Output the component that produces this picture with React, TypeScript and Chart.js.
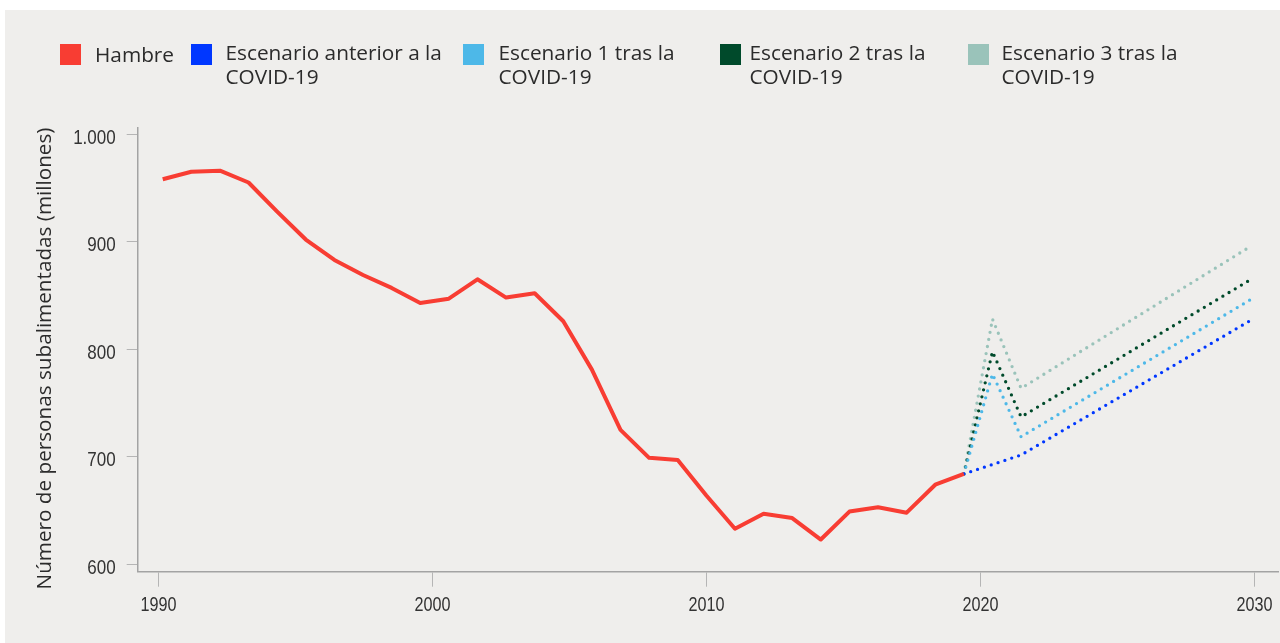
import React, { useEffect, useRef } from 'react';
import { Chart, registerables } from 'chart.js';

Chart.register(...registerables);

// ---- data ----
const hungerYears = [
  1991, 1992, 1993, 1994, 1995, 1996, 1997, 1998, 1999, 2000,
  2001, 2002, 2003, 2004, 2005, 2006, 2007, 2008, 2009, 2010,
  2011, 2012, 2013, 2014, 2015, 2016, 2017, 2018, 2019,
];
const hungerValues = [
  958, 965, 966, 955, 928, 902, 883, 869, 857, 843,
  847, 865, 848, 852, 826, 781, 725, 699, 697, 664,
  633, 647, 643, 623, 649, 653, 648, 674, 684,
];

const preCovidYears = [2019, 2021, 2029];
const preCovidValues = [684, 701.6, 826.5];

const scenarioYears = [2019, 2020, 2021, 2029];
const scenario1Values = [684, 777, 718.6, 845.8];
const scenario2Values = [684, 797.7, 737, 864.4];
const scenario3Values = [684, 828, 763.6, 895.3];

const seriesLabels = [
  'Hambre',
  'Escenario anterior a la\nCOVID-19',
  'Escenario 1 tras la\nCOVID-19',
  'Escenario 2 tras la\nCOVID-19',
  'Escenario 3 tras la\nCOVID-19',
];
const seriesColors = ['#F83D33', '#0037FF', '#4DB8E8', '#004A2B', '#9AC3BA'];

const xTickYears = [1990, 2000, 2010, 2020, 2030];
const yTickValues = [600, 700, 800, 900, 1000];
const yAxisTitle = 'Número de personas subalimentadas (millones)';

// ---- layout (page coordinates) ----
const legendSquareLeft = [60, 191, 463, 720, 968];
const legendTextLeft = [95, 225.5, 498.5, 749.5, 1001.5];

const fmtThousands = (v: number) =>
  String(Math.round(v)).replace(/\B(?=(\d{3})+(?!\d))/g, '.');

const tickFont = "'Liberation Sans', Arial, sans-serif";
const textFont = "'Open Sans', 'Noto Sans', sans-serif";

// Draws tick labels in a narrow (horizontally condensed) face, plus the y title.
const axisTextPlugin = {
  id: 'axisText',
  afterDraw(chart: any) {
    const ctx: CanvasRenderingContext2D = chart.ctx;
    const ys = chart.scales.y;
    const xs = chart.scales.xt;
    ctx.save();
    ctx.fillStyle = '#333333';
    ctx.textBaseline = 'alphabetic';

    ctx.font = `21px ${tickFont}`;
    ctx.textAlign = 'right';
    yTickValues.forEach((v) => {
      const py = ys.getPixelForValue(v);
      ctx.save();
      ctx.translate(ys.right - 22, py + 9.5);
      ctx.scale(0.81, 1);
      ctx.fillText(fmtThousands(v), 0, 0);
      ctx.restore();
    });

    ctx.font = `20px ${tickFont}`;
    ctx.textAlign = 'center';
    xTickYears.forEach((v) => {
      const px = xs.getPixelForValue(v);
      ctx.save();
      ctx.translate(px, xs.top + 39.3);
      ctx.scale(0.81, 1);
      ctx.fillText(String(v), 0, 0);
      ctx.restore();
    });

    ctx.fillStyle = '#2b2b2b';
    ctx.font = `500 20.7px ${textFont}`;
    ctx.textAlign = 'center';
    ctx.textBaseline = 'middle';
    ctx.translate(40.5, 348.5);
    ctx.rotate(-Math.PI / 2);
    ctx.fillText(yAxisTitle, 0, 0);
    ctx.restore();
  },
};

export default function App() {
  const canvasRef = useRef<HTMLCanvasElement | null>(null);

  useEffect(() => {
    const canvas = canvasRef.current;
    if (!canvas) return;
    const pts = (xs: number[], ys: number[]) => xs.map((x, i) => ({ x, y: ys[i] }));
    const dotted = (i: number, xs: number[], ys: number[]) => ({
      label: seriesLabels[i],
      data: pts(xs, ys),
      borderColor: seriesColors[i],
      backgroundColor: seriesColors[i],
      borderWidth: 3.3,
      borderDash: [0, 7.2],
      borderCapStyle: 'round' as const,
      borderJoinStyle: 'round' as const,
      pointRadius: 0,
      tension: 0,
      xAxisID: 'x',
      yAxisID: 'y',
    });

    const chart = new Chart(canvas, {
      type: 'line',
      data: {
        datasets: [
          {
            label: seriesLabels[0],
            data: pts(hungerYears, hungerValues),
            borderColor: seriesColors[0],
            backgroundColor: seriesColors[0],
            borderWidth: 4,
            borderJoinStyle: 'round',
            pointRadius: 0,
            tension: 0,
            xAxisID: 'x',
            yAxisID: 'y',
          },
          dotted(1, preCovidYears, preCovidValues),
          dotted(2, scenarioYears, scenario1Values),
          dotted(3, scenarioYears, scenario2Values),
          dotted(4, scenarioYears, scenario3Values),
        ] as any,
      },
      options: {
        animation: false,
        responsive: false,
        devicePixelRatio: 1,
        layout: { padding: { left: 0, right: 2, top: 118, bottom: 0 } },
        plugins: { legend: { display: false }, tooltip: { enabled: false } },
        scales: {
          x: { type: 'linear', display: false, min: 1990.126, max: 2029.979 },
          xt: {
            type: 'linear',
            position: 'bottom',
            min: 1989.24,
            max: 2030.86,
            afterBuildTicks: (s: any) => {
              s.ticks = xTickYears.map((v) => ({ value: v }));
            },
            afterFit: (s: any) => {
              s.height = 71.3;
            },
            grid: { drawOnChartArea: false, drawTicks: true, tickLength: 15, color: '#b5b5b5', lineWidth: 1 },
            border: { display: true, color: '#a3a3a3', width: 1.5 },
            ticks: { display: false, autoSkip: false },
          },
          y: {
            type: 'linear',
            position: 'left',
            min: 593.1,
            max: 1005.7,
            afterBuildTicks: (s: any) => {
              s.ticks = yTickValues.map((v) => ({ value: v }));
            },
            afterFit: (s: any) => {
              s.width = 132.7;
            },
            grid: { drawOnChartArea: false, drawTicks: true, tickLength: 11, color: '#b5b5b5', lineWidth: 1 },
            border: { display: true, color: '#a3a3a3', width: 1.5 },
            ticks: { display: false },
          },
        },
      } as any,
      plugins: [axisTextPlugin],
    });
    return () => chart.destroy();
  }, []);

  return (
    <div
      style={{
        position: 'absolute',
        left: 0,
        top: 0,
        width: 1280,
        height: 643,
        background: '#ffffff',
        overflow: 'hidden',
      }}
    >
      <div
        style={{
          position: 'absolute',
          left: 5,
          top: 10,
          width: 1275,
          height: 633,
          background: '#EFEEEC',
        }}
      >
        <canvas ref={canvasRef} width={1275} height={633} style={{ display: 'block' }} />
      </div>
      {seriesLabels.map((label, i) => {
        const single = !label.includes('\n');
        return (
          <React.Fragment key={label}>
            <div
              style={{
                position: 'absolute',
                left: legendSquareLeft[i],
                top: 44,
                width: 21,
                height: 21,
                background: seriesColors[i],
              }}
            />
            <div
              style={{
                position: 'absolute',
                left: legendTextLeft[i],
                top: single ? 42 : 39.5,
                fontFamily: textFont,
                fontSize: 20.8,
                fontWeight: 500,
                lineHeight: '24px',
                color: '#2b2b2b',
                whiteSpace: 'pre',
              }}
            >
              {label}
            </div>
          </React.Fragment>
        );
      })}
    </div>
  );
}
